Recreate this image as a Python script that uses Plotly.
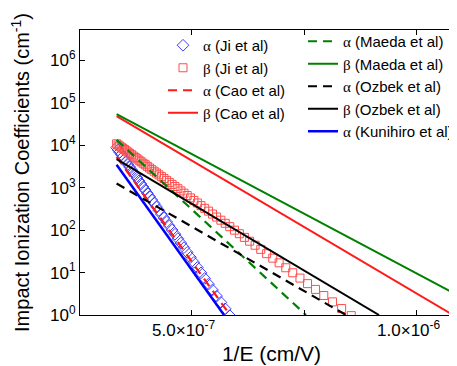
import plotly.graph_objects as go

# Ji et al: field (MV/cm) and coefficients (cm^-1)
E_ji_beta = [3.00, 2.97, 2.94, 2.91, 2.88, 2.85, 2.82, 2.79, 2.76, 2.73, 2.70, 2.67, 2.64, 2.61,
             2.58, 2.55, 2.52, 2.49, 2.46, 2.43, 2.40, 2.37, 2.34, 2.31, 2.28, 2.25, 2.22, 2.19,
             2.16, 2.13, 2.10, 2.07, 2.04, 2.01, 1.98, 1.95, 1.92, 1.89, 1.86, 1.83, 1.80, 1.77,
             1.74, 1.71, 1.68, 1.65, 1.62, 1.59, 1.56, 1.53, 1.50, 1.47, 1.44, 1.41, 1.38, 1.35,
             1.32, 1.29, 1.26, 1.23, 1.20, 1.17]
beta_ji = [1.087e4, 1.023e4, 9.62e3, 9.03e3, 8.48e3, 7.94e3, 7.43e3, 6.94e3, 6.47e3, 6.02e3,
           5.60e3, 5.20e3, 4.82e3, 4.46e3, 4.11e3, 3.79e3, 3.49e3, 3.20e3, 2.93e3, 2.68e3,
           2.45e3, 2.23e3, 2.02e3, 1.83e3, 1.65e3, 1.49e3, 1.34e3, 1.20e3, 1.07e3, 951,
           843, 745, 656, 576, 503, 438, 379, 327, 281, 240, 204, 172, 145, 121, 100,
           82.6, 67.6, 54.9, 44.2, 35.3, 27.9, 21.9, 17.0, 13.0, 9.90, 7.42, 5.49, 4.01,
           2.88, 2.04, 1.42, 0.966]
E_ji_alpha = [3.00, 2.97, 2.94, 2.91, 2.88, 2.85, 2.82, 2.79, 2.76, 2.73, 2.70, 2.67, 2.64, 2.61,
              2.58, 2.55, 2.52, 2.49, 2.46, 2.43, 2.40, 2.37, 2.34, 2.31, 2.28, 2.25, 2.22, 2.19,
              2.16, 2.13, 2.10, 2.07, 2.04, 2.01, 1.98, 1.95, 1.92, 1.89, 1.86, 1.83, 1.80, 1.77,
              1.74, 1.71]
alpha_ji = [8.82e3, 7.81e3, 6.89e3, 6.07e3, 5.33e3, 4.67e3, 4.08e3, 3.55e3, 3.08e3, 2.67e3,
            2.30e3, 1.98e3, 1.70e3, 1.45e3, 1.23e3, 1.04e3, 882, 742, 621, 518, 430, 355,
            292, 238, 194, 157, 126, 101, 80.2, 63.3, 49.6, 38.7, 29.9, 22.9, 17.4, 13.2,
            9.84, 7.29, 5.35, 3.89, 2.79, 1.99, 1.40, 0.968]

# Model lines: 1/E (cm/V) end points and coefficients (cm^-1)
invE_cao_alpha = [3.333e-7, 5.853e-7]
alpha_cao = [5.37e3, 1.0]
invE_cao_beta = [3.333e-7, 1.081e-6]
beta_cao = [4.88e4, 1.0]
invE_maeda_alpha = [3.333e-7, 7.542e-7]
alpha_maeda = [1.35e4, 1.0]
invE_maeda_beta = [3.333e-7, 1.103e-6]
beta_maeda = [5.43e4, 2.51]
invE_ozbek_alpha = [3.333e-7, 8.43e-7]
alpha_ozbek = [1.26e3, 1.0]
invE_ozbek_beta = [3.333e-7, 9.164e-7]
beta_ozbek = [4.73e3, 1.0]
invE_kuni_alpha = [3.333e-7, 5.72e-7]
alpha_kuni = [3.47e3, 1.0]

ytick_vals = [1, 10, 100, 1e3, 1e4, 1e5, 1e6]
ytick_text = ["10<sup>0</sup>", "10<sup>1</sup>", "10<sup>2</sup>", "10<sup>3</sup>",
              "10<sup>4</sup>", "10<sup>5</sup>", "10<sup>6</sup>"]
ytick_minor = [m * d for d in [1, 10, 100, 1e3, 1e4, 1e5, 1e6] for m in range(2, 10)]
xtick_vals = [5e-7, 7.5e-7, 1e-6]
xtick_text = ["5.0×10<sup>-7</sup>", "", "1.0×10<sup>-6</sup>"]

FONT = "Liberation Sans, Arial, sans-serif"
GREEN = "#008000"
RED = "#ff1a1a"
DASH = "9px,6px"
YRANGE = [0, 6.72]


def gname(greek, who):
    return "<span style='font-family:Liberation Serif'>" + greek + "</span> (" + who + " et al)"


fig = go.Figure()
fig.add_trace(go.Scatter(x=[1e-6 / e for e in E_ji_alpha], y=alpha_ji, mode="markers",
                         name=gname("α", "Ji"), legend="legend",
                         marker=dict(symbol="diamond-open", size=9, color="#3b3bff",
                                     line=dict(width=1))))
fig.add_trace(go.Scatter(x=[1e-6 / e for e in E_ji_beta], y=beta_ji, mode="markers",
                         name=gname("β", "Ji"), legend="legend",
                         marker=dict(symbol="square-open", size=8, color="#ff4d4d",
                                     line=dict(width=1))))
fig.add_trace(go.Scatter(x=invE_cao_alpha, y=alpha_cao, mode="lines", name=gname("α", "Cao"),
                         legend="legend", line=dict(color=RED, width=2.2, dash=DASH)))
fig.add_trace(go.Scatter(x=invE_cao_beta, y=beta_cao, mode="lines", name=gname("β", "Cao"),
                         legend="legend", line=dict(color=RED, width=2)))
fig.add_trace(go.Scatter(x=invE_maeda_alpha, y=alpha_maeda, mode="lines", name=gname("α", "Maeda"),
                         legend="legend2", line=dict(color=GREEN, width=2.2, dash=DASH)))
fig.add_trace(go.Scatter(x=invE_maeda_beta, y=beta_maeda, mode="lines", name=gname("β", "Maeda"),
                         legend="legend2", line=dict(color=GREEN, width=2)))
fig.add_trace(go.Scatter(x=invE_ozbek_alpha, y=alpha_ozbek, mode="lines", name=gname("α", "Ozbek"),
                         legend="legend2", line=dict(color="black", width=2.2, dash=DASH)))
fig.add_trace(go.Scatter(x=invE_ozbek_beta, y=beta_ozbek, mode="lines", name=gname("β", "Ozbek"),
                         legend="legend2", line=dict(color="black", width=2)))
fig.add_trace(go.Scatter(x=invE_kuni_alpha, y=alpha_kuni, mode="lines", name=gname("α", "Kunihiro"),
                         legend="legend2", line=dict(color="#0000ff", width=2.5)))

axis_common = dict(showline=True, linecolor="black", linewidth=1, mirror="ticks",
                   ticks="inside", tickcolor="black", showgrid=False, zeroline=False,
                   tickfont=dict(family=FONT, size=17, color="black"))

fig.update_layout(
    width=457, height=366,
    margin=dict(l=72, r=2, t=22, b=59, autoexpand=False),
    paper_bgcolor="white", plot_bgcolor="white",
    font=dict(family=FONT, color="black"),
    showlegend=True,
    xaxis=dict(range=[2.52e-7, 1.103e-6], tickmode="array", tickvals=xtick_vals,
               ticktext=xtick_text, ticklen=5, automargin=False, ticklabelshift=-8,
               title=dict(text="1/E (cm/V)", font=dict(family=FONT, size=21), standoff=6),
               **axis_common),
    yaxis=dict(type="log", range=YRANGE, tickmode="array", tickvals=ytick_vals,
               ticktext=ytick_text, ticklen=5, automargin=False,
               title=dict(text="Impact Ionization Coefficients (cm<sup>-1</sup>)",
                          font=dict(family=FONT, size=20), standoff=15),
               **axis_common),
    yaxis2=dict(type="log", range=YRANGE, overlaying="y", side="left", anchor="x",
                tickmode="array", tickvals=ytick_minor, ticks="inside", ticklen=3,
                tickcolor="black", mirror="ticks", showline=False, showgrid=False,
                zeroline=False, showticklabels=False, automargin=False),
    legend=dict(x=(155 - 72) / 383, y=1 - (21 - 22) / 285, xref="paper", yref="paper",
                xanchor="left", yanchor="top", bgcolor="rgba(0,0,0,0)",
                font=dict(family=FONT, size=15), tracegroupgap=0),
    legend2=dict(x=(295 - 72) / 383, y=1 - (17 - 22) / 285, xref="paper", yref="paper",
                 xanchor="left", yanchor="top", bgcolor="rgba(0,0,0,0)",
                 font=dict(family=FONT, size=15), tracegroupgap=0),
)

fig.write_html("out.html")
